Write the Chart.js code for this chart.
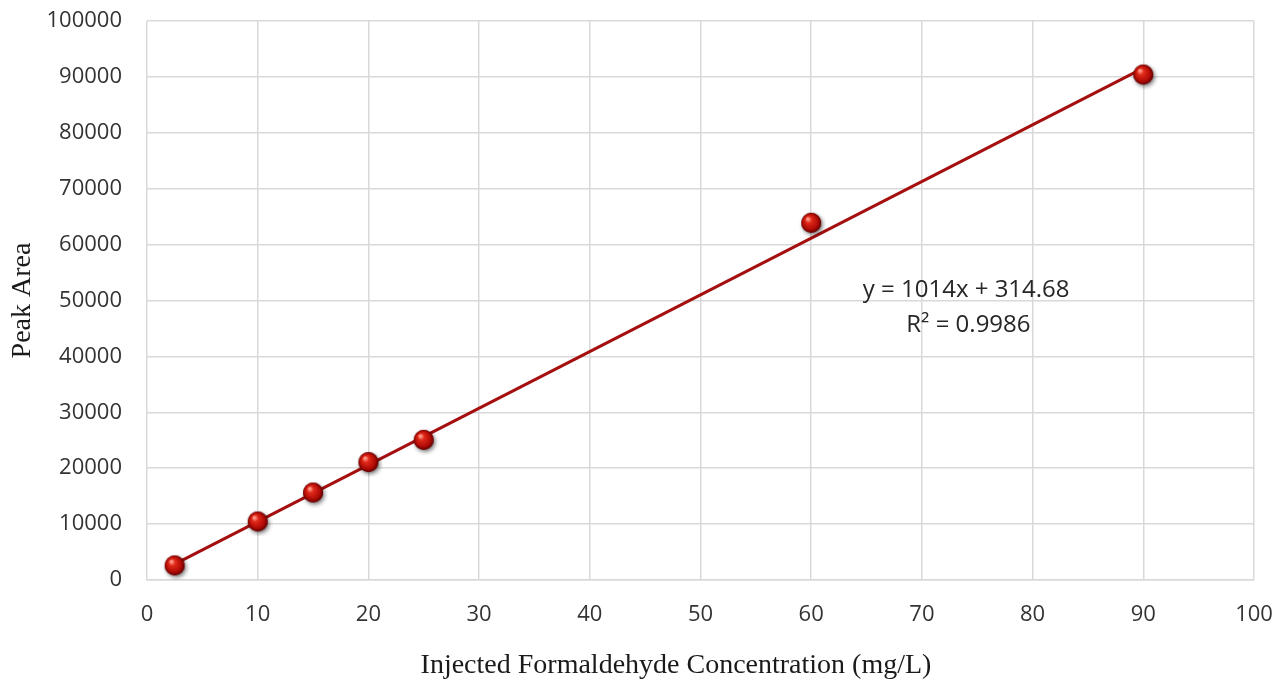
<!DOCTYPE html>
<html><head><meta charset="utf-8">
<script src="https://cdn.jsdelivr.net/npm/chart.js@4/dist/chart.umd.min.js"></script>
<style>html,body{margin:0;padding:0;background:#fff;}#wrap{width:1284px;height:682px;}</style>
</head><body><div id="wrap"><canvas id="c" width="1284" height="682"></canvas></div>
<script>
const concentrations = [2.5, 10, 15, 20, 25, 60, 90];
const peakAreas = [2610, 10470, 15650, 21090, 25070, 63900, 90420];
const slope = 1014;
const intercept = 314.68;
const trendX = [2.5, 90];
const equationText = "y = 1014x + 314.68";
const r2Text = "R\u00B2 = 0.9986";
const xTitle = "Injected Formaldehyde Concentration (mg/L)";
const yTitle = "Peak Area";

function sphere(r){
  const s = r*2+10;
  const c = document.createElement('canvas');
  c.width = s; c.height = s;
  const g = c.getContext('2d');
  const cx = s/2, cy = s/2;
  g.save();
  g.shadowColor = 'rgba(0,0,0,0.55)';
  g.shadowBlur = 4; g.shadowOffsetX = 1.5; g.shadowOffsetY = 2;
  g.beginPath(); g.arc(cx,cy,r,0,Math.PI*2); g.fillStyle='#8a0000'; g.fill();
  g.restore();
  const grad = g.createRadialGradient(cx-r*0.35, cy-r*0.4, r*0.1, cx, cy, r);
  grad.addColorStop(0,'#ff9a8a');
  grad.addColorStop(0.25,'#e02a1a');
  grad.addColorStop(0.75,'#b00a05');
  grad.addColorStop(1,'#5a0000');
  g.beginPath(); g.arc(cx,cy,r,0,Math.PI*2); g.fillStyle=grad; g.fill();
  return c;
}
const ball = sphere(10);

const annot = {
  id:'annot',
  afterDatasetsDraw(chart){
    const {ctx, scales:{x,y}} = chart;
    ctx.save();
    ctx.fillStyle = '#262626';
    ctx.font = '24px "Open Sans", "Liberation Sans", sans-serif';
    ctx.textAlign = 'center'; ctx.textBaseline = 'middle';
    ctx.fillText(equationText, x.getPixelForValue(74.0), y.getPixelForValue(51880));
    ctx.fillText(r2Text, x.getPixelForValue(74.2), y.getPixelForValue(45620));
    ctx.restore();
  },
  afterDraw(chart){
    const {ctx} = chart;
    ctx.save();
    ctx.fillStyle = '#1a1a1a';
    ctx.font = '28px "Liberation Serif", serif';
    ctx.textAlign = 'center'; ctx.textBaseline = 'middle';
    ctx.fillText(xTitle, 676, 666);
    ctx.restore();
  }
};

new Chart(document.getElementById('c'), {
  type:'scatter',
  data:{datasets:[
    {label:'Trend', type:'line', data:trendX.map(v=>({x:v, y:slope*v+intercept})), borderColor:'#a50f0f', borderWidth:3, pointRadius:0, fill:false, order:2},
    {label:'Data', data:concentrations.map((v,i)=>({x:v,y:peakAreas[i]})), pointStyle:ball, pointRadius:10, order:1}
  ]},
  plugins:[annot],
  options:{
    responsive:false, animation:false,
    layout:{padding:{top:21, right:30, left:0, bottom:4}},
    plugins:{legend:{display:false}, tooltip:{enabled:false}},
    scales:{
      x:{type:'linear', min:0, max:100,
        ticks:{stepSize:10, color:'#333333', font:{family:'"Open Sans", "Liberation Sans", sans-serif', size:22}, padding:22, callback:v=>String(v)},
        grid:{color:'#d9d9d9', lineWidth:1.5, drawTicks:false},
        border:{color:'#d9d9d9', width:1.5},
        afterFit(s){ s.height = 98; s.paddingLeft = 0; s.paddingRight = 0; }
      },
      y:{min:0, max:100000,
        ticks:{stepSize:10000, color:'#333333', font:{family:'"Open Sans", "Liberation Sans", sans-serif', size:22}, padding:25, callback:v=>String(v)},
        grid:{color:'#d9d9d9', lineWidth:1.5, drawTicks:false},
        border:{display:false},
        title:{display:true, text:yTitle, color:'#1a1a1a', font:{family:'"Liberation Serif", serif', size:28}, padding:{top:6, bottom:0}},
        afterFit(s){ s.width = 147; s.paddingTop = 0; s.paddingBottom = 0; }
      }
    }
  }
});
</script></body></html>
